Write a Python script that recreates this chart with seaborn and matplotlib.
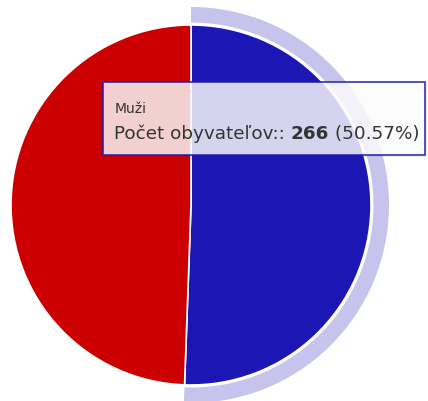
import matplotlib
matplotlib.use("Agg")
import matplotlib.pyplot as plt
from matplotlib.patches import Wedge, Rectangle
import seaborn as sns

categories = ["Muži", "Ženy"]
values = [266, 260]
series_name = "Počet obyvateľov:"
colors = ["#1c17b4", "#cc0000"]

sns.set_theme(style="white")
plt.rcParams['font.family'] = ['DejaVu Sans']

W, H = 428, 401
fig = plt.figure(figsize=(W / 100, H / 100), dpi=100)
ax = fig.add_axes([0, 0, 1, 1])

cx, cy, r = 191, H - 205, 180
wedges, _ = ax.pie(values, colors=colors, startangle=90, counterclock=False,
                   center=(cx, cy), radius=r, frame=True,
                   wedgeprops=dict(edgecolor="white", linewidth=1.2))
ax.set_xlim(0, W)
ax.set_ylim(0, H)
ax.set_aspect('equal')
ax.axis('off')

# hover halo around the first slice
w0 = wedges[0]
halo = Wedge((cx, cy), r + 18, w0.theta1, w0.theta2, width=15.5,
             facecolor=colors[0], alpha=0.25, edgecolor="none")
ax.add_patch(halo)

# tooltip
total = sum(values)
tx0, ty0, tx1, ty1 = 103, H - 155, 425, H - 82
ax.add_patch(Rectangle((tx0 + 2, ty0 - 2), tx1 - tx0, ty1 - ty0,
                       facecolor="black", alpha=0.06, edgecolor="none"))
ax.add_patch(Rectangle((tx0, ty0), tx1 - tx0, ty1 - ty0,
                       facecolor="white", alpha=0.82,
                       edgecolor=colors[0], linewidth=1.3))
fs = 13.2
ax.text(115, H - 113, categories[0], fontsize=10, color="#333333", va="baseline")
t1 = ax.text(114, H - 139, f"{series_name}: ", fontsize=fs, color="#333333", va="baseline")
fig.canvas.draw()
x2 = t1.get_window_extent().x1
t2 = ax.text(x2, H - 139, f"{values[0]}", fontsize=fs, fontweight="bold",
             color="#333333", va="baseline")
fig.canvas.draw()
x3 = t2.get_window_extent().x1
ax.text(x3, H - 139, f" ({values[0] / total * 100:.2f}%)", fontsize=fs,
        color="#333333", va="baseline")

fig.savefig("out.png", dpi=100)
